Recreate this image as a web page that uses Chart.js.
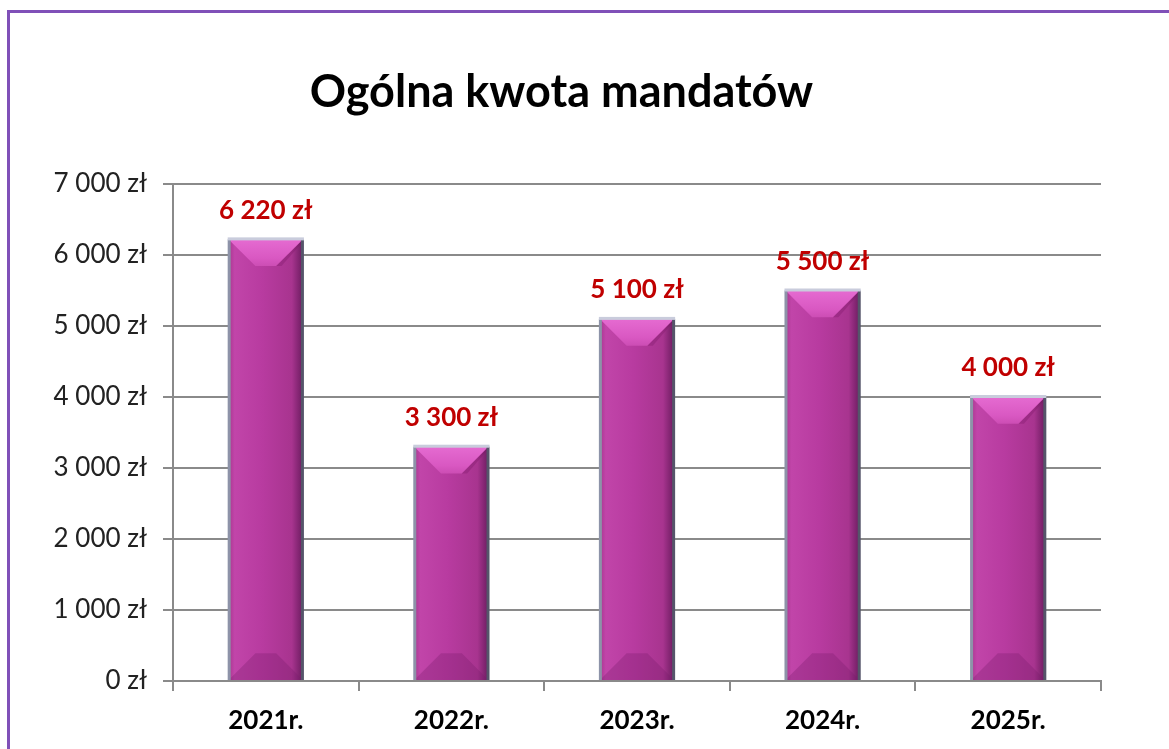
<!DOCTYPE html>
<html>
<head>
<meta charset="utf-8">
<script src="https://cdn.jsdelivr.net/npm/chart.js@4.4.1/dist/chart.umd.min.js"></script>
<style>
  html, body { margin:0; padding:0; background:#fff; overflow:hidden; }
  #wrap { position:relative; width:1169px; height:749px; }
  #frame { position:absolute; left:7px; top:10px; width:2000px; height:2000px; border:3px solid #8050b8; pointer-events:none; }
  #title { position:absolute; left:0; width:1123px; top:62px; text-align:center; font-family:Lato, "Open Sans", sans-serif; font-weight:bold; font-size:45px; color:#000; line-height:56px; }
  canvas { position:absolute; left:0; top:0; }
</style>
</head>
<body>
<div id="wrap">
  <canvas id="c" width="1169" height="749"></canvas>
  <div id="frame"></div>
  <div id="title">Ogólna kwota mandatów</div>
</div>
<script>
const categories = ["2021r.", "2022r.", "2023r.", "2024r.", "2025r."];
const amounts = [6220, 3300, 5100, 5500, 4000];
const yTicks = [0, 1000, 2000, 3000, 4000, 5000, 6000, 7000];

function fmt(v) {
  return String(v).replace(/\B(?=(\d{3})+(?!\d))/g, ' ') + ' zł';
}

const FONT = 'Lato, "Open Sans", sans-serif';

const bevelPlugin = {
  id: 'bevel',
  afterDatasetsDraw(chart) {
    const ctx = chart.ctx;
    const meta = chart.getDatasetMeta(0);
    meta.data.forEach((bar, i) => {
      const w = bar.width;
      const l = bar.x - w / 2, r = bar.x + w / 2;
      const t = bar.y, bot = bar.base;
      const h = bot - t;
      const b = Math.min(w * 0.36, h / 2);
      ctx.save();
      // body gradient
      const g = ctx.createLinearGradient(l, 0, r, 0);
      g.addColorStop(0, '#a9378f');
      g.addColorStop(0.08, '#c145a9');
      g.addColorStop(0.45, '#b83ba0');
      g.addColorStop(0.85, '#a8348f');
      g.addColorStop(1, '#6c1c60');
      ctx.fillStyle = g;
      ctx.fillRect(l, t, w, h);
      // top bevel
      const gt = ctx.createLinearGradient(0, t, 0, t + b);
      gt.addColorStop(0, '#e56bd1');
      gt.addColorStop(0.7, '#d958c2');
      gt.addColorStop(1, '#cc4db4');
      ctx.fillStyle = gt;
      ctx.beginPath();
      ctx.moveTo(l, t); ctx.lineTo(r, t); ctx.lineTo(r - b, t + b); ctx.lineTo(l + b, t + b); ctx.closePath();
      ctx.fill();
      // right side of top bevel a bit darker
      ctx.fillStyle = 'rgba(120,20,100,0.3)';
      ctx.beginPath();
      ctx.moveTo(r, t); ctx.lineTo(r - b, t + b); ctx.lineTo(r - b * 0.8, t + b); ctx.lineTo(r, t + 2); ctx.closePath();
      ctx.fill();
      // bottom bevel
      ctx.fillStyle = 'rgba(120,25,105,0.3)';
      ctx.beginPath();
      ctx.moveTo(l, bot); ctx.lineTo(r, bot); ctx.lineTo(r - b, bot - b); ctx.lineTo(l + b, bot - b); ctx.closePath();
      ctx.fill();
      // edges
      ctx.fillStyle = '#8d93a8';
      ctx.fillRect(l - 1, t, 3, h);
      ctx.fillStyle = '#55556a';
      ctx.fillRect(r - 2, t, 3, h);
      ctx.fillStyle = '#c9ccdc';
      ctx.fillRect(l - 1, t - 2, w + 2, 3);
      ctx.restore();
      // data label
      ctx.save();
      ctx.font = 'bold 26px ' + FONT;
      ctx.fillStyle = '#c00000';
      ctx.textAlign = 'center';
      ctx.textBaseline = 'middle';
      ctx.fillText(fmt(amounts[i]), bar.x, t - 29);
      ctx.restore();
    });
  }
};

new Chart(document.getElementById('c'), {
  type: 'bar',
  data: {
    labels: categories,
    datasets: [{
      data: amounts,
      backgroundColor: '#b93ba1',
      borderWidth: 0,
      categoryPercentage: 1.0,
      barPercentage: 0.4
    }]
  },
  options: {
    responsive: false,
    animation: false,
    events: [],
    layout: { padding: { top: 184, right: 68, left: 0, bottom: 0 } },
    plugins: { legend: { display: false }, tooltip: { enabled: false }, title: { display: false } },
    scales: {
      x: {
        grid: { display: true, drawOnChartArea: false, drawTicks: true, tickLength: 10, color: '#8a8a8a', lineWidth: 2, offset: true },
        border: { display: true, color: '#8a8a8a', width: 2 },
        ticks: { color: '#000', padding: 14, font: { family: FONT, size: 26, weight: 'bold' } },
        afterFit(scale) { scale.height = 68; }
      },
      y: {
        min: 0, max: 7000,
        afterBuildTicks(scale) { scale.ticks = yTicks.map(v => ({ value: v })); },
        grid: { color: '#8a8a8a', lineWidth: 2, drawTicks: true, tickLength: 10 },
        border: { display: true, color: '#8a8a8a', width: 2 },
        ticks: { color: '#222', padding: 16, font: { family: FONT, size: 26 }, callback: v => fmt(v) },
        afterFit(scale) { scale.width = 173; }
      }
    }
  },
  plugins: [bevelPlugin]
});
</script>
</body>
</html>
